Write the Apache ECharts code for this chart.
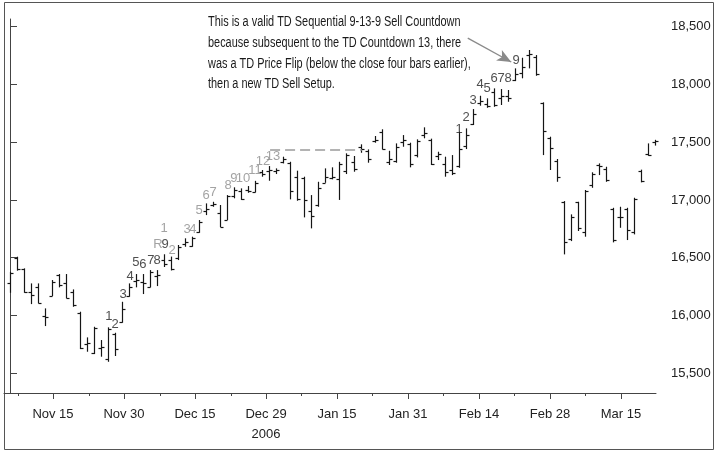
<!DOCTYPE html>
<html>
<head>
<meta charset="utf-8">
<script src="https://cdn.jsdelivr.net/npm/echarts@6.0.0/dist/echarts.min.js"></script>
<style>
  html, body { margin: 0; padding: 0; background: #fff; }
  #chart { width: 716px; height: 453px; }
</style>
</head>
<body>
<div id="chart"></div>
<script>
  // one bar per trading day, index 0 .. 92
  const opens = [16278, 16500, 16400, 16200, 16250, 16000, 16170, 16350, 16280, 16200,
    16020, 15750, 15680, 15720, 15620, 15840, 15945, 16170, 16300, 16290,
    16250, 16340, 16480, 16480, 16500, 16620, 16600, 16720, 16900, 16955,
    16890, 16830, 17030, 17080, 17090, 17070, 17240, 17250, 17250, 17330,
    17320, 17200, 17190, 16900, 16960, 17150, 17190, 17180, 17250, 17330,
    17460, 17420, 17510, 17590, 17330, 17340, 17500, 17480, 17390, 17560,
    17520, 17380, 17310, 17260, 17290, 17470, 17660, 17840, 17830, 17930,
    17880, 17900, 18040, 18100, 18250, 18240, 17840, 17540, 17340, 16980,
    16660, 16980, 16720, 17130, 17300, 17270, 16920, 16850, 16920, 16720,
    17250, 17400, 17500];
  const highs = [16379, 16509, 16408, 16278, 16278, 16062, 16307, 16359, 16359, 16226,
    16033, 15811, 15903, 15788, 15898, 15851, 16119, 16278, 16359, 16359,
    16393, 16393, 16530, 16510, 16610, 16668, 16682, 16826, 16970, 16984,
    16956, 17042, 17109, 17100, 17120, 17165, 17259, 17293, 17273, 17374,
    17330, 17253, 17201, 17042, 17157, 17273, 17282, 17330, 17403, 17380,
    17481, 17437, 17553, 17611, 17425, 17489, 17561, 17495, 17524, 17628,
    17530, 17417, 17374, 17388, 17590, 17619, 17786, 17901, 17879, 17965,
    17959, 17951, 18138, 18230, 18297, 18253, 17844, 17547, 17354, 16990,
    16875, 16984, 17086, 17239, 17316, 17287, 16932, 16941, 16932, 17019,
    17262, 17489, 17520];
  const lows = [16197, 16388, 16197, 16099, 16105, 15909, 16168, 16244, 16149, 16076,
    15710, 15687, 15667, 15644, 15600, 15650, 15938, 16163, 16244, 16186,
    16244, 16255, 16420, 16390, 16480, 16595, 16595, 16716, 16869, 16941,
    16765, 16826, 17014, 17000, 17062, 17065, 17201, 17166, 17224, 17316,
    17005, 16993, 16849, 16754, 16941, 17148, 17178, 17000, 17224, 17244,
    17408, 17322, 17495, 17437, 17302, 17322, 17460, 17282, 17368, 17533,
    17302, 17345, 17201, 17215, 17278, 17440, 17648, 17815, 17797, 17806,
    17821, 17849, 18028, 18052, 18138, 18074, 17388, 17259, 17157, 16529,
    16644, 16731, 16682, 17105, 17215, 17157, 16633, 16759, 16653, 16702,
    17152, 17382, 17470];
  const closes = [16365, 16400, 16200, 16180, 16110, 15990, 16290, 16260, 16150, 16090,
    15715, 15760, 15890, 15730, 15880, 15707, 16060, 16250, 16310, 16280,
    16380, 16350, 16450, 16400, 16590, 16640, 16670, 16810, 16920, 16965,
    16770, 17030, 17090, 17010, 17080, 17150, 17220, 17260, 17255, 17350,
    17080, 17010, 17000, 16860, 17100, 17200, 17200, 17310, 17390, 17270,
    17440, 17350, 17520, 17440, 17350, 17460, 17520, 17310, 17510, 17580,
    17310, 17400, 17240, 17230, 17440, 17560, 17740, 17860, 17810, 17820,
    17900, 17880, 18090, 18150, 18260, 18090, 17600, 17450, 17200, 16640,
    16850, 16760, 17080, 17220, 17290, 17170, 16650, 16850, 16740, 17010,
    17160, 17390, 17510];

  // date ticks, in bar units
  const tickPos = [6.13, 16.26, 26.39, 36.52, 46.65, 56.78, 66.9, 77.03, 87.16];
  const tickLabels = ['Nov 15', 'Nov 30', 'Dec 15', 'Dec 29\n2006', 'Jan 15', 'Jan 31', 'Feb 14', 'Feb 28', 'Mar 15'];
  const minorTickPos = [1.14, 11.27, 21.4, 31.5, 41.6, 51.7, 61.8, 72.0, 82.1];
  const priceTicks = [15500, 16000, 16500, 17000, 17500, 18000, 18500];

  // TD counts: [bar position, price level, text]
  const setupCounts = [
    [14.12, 15990, '1'], [14.98, 15926, '2'], [16.12, 16186, '3'], [17.12, 16342, '4'],
    [17.97, 16457, '5'], [18.97, 16445, '6'], [20.11, 16480, '7'], [20.97, 16480, '8'],
    [22.11, 16618, '9'],
    [64.05, 17613, '1'], [65.05, 17711, '2'], [66.05, 17864, '3'], [67.05, 18000, '4'],
    [68.05, 17965, '5'], [69.04, 18052, '6'], [70.04, 18052, '7'], [71.04, 18052, '8'],
    [72.18, 18210, '9']
  ];
  const countdownCounts = [
    [21.11, 16618, 'R'], [21.97, 16754, '1'], [23.11, 16567, '2'], [25.25, 16748, '3'],
    [26.1, 16748, '4'], [26.96, 16913, '5'], [27.96, 17042, '6'], [28.96, 17062, '7'],
    [31.1, 17129, '8'], [31.95, 17187, '9'], [33.24, 17187, '10'], [34.95, 17258, '11'],
    [36.09, 17330, '12'], [37.52, 17373, '13']
  ];
  const riskLevel = 17437;
  const riskFrom = 37.1, riskTo = 50.2;
  const arrowFrom = [65.3, 18400], arrowTo = [71.5, 18193];

  const noteLines = [
    'This is a valid TD Sequential 9-13-9 Sell Countdown',
    'because subsequent to the TD Countdown 13, there',
    'was a TD Price Flip (below the close four bars earlier),',
    'then a new TD Sell Setup.'
  ];

  const FONT = '"Liberation Sans", Arial, sans-serif';
  const xMin = -0.856, xMax = 92.15;

  const bars = opens.map((o, i) => [i, o, highs[i], lows[i], closes[i]]);

  const chart = echarts.init(document.getElementById('chart'));

  function countSeries(name, data, color) {
    return {
      name: name,
      type: 'scatter',
      data: data,
      symbolSize: 1,
      itemStyle: { color: 'rgba(0,0,0,0)' },
      silent: true,
      label: {
        show: true,
        position: 'inside',
        formatter: p => p.data[2],
        color: color,
        fontSize: 13,
        fontFamily: FONT
      }
    };
  }

  chart.setOption({
    animation: false,
    backgroundColor: '#fff',
    grid: { left: 4, right: 60, top: 19, bottom: 60 },
    xAxis: [
      {
        type: 'value',
        min: xMin,
        max: xMax,
        axisLine: { show: true, lineStyle: { color: '#444', width: 1 } },
        axisTick: { show: true, length: 6, customValues: tickPos, lineStyle: { color: '#444' } },
        axisLabel: {
          customValues: tickPos,
          formatter: v => {
            let k = 0;
            tickPos.forEach((t, j) => { if (Math.abs(t - v) < Math.abs(tickPos[k] - v)) k = j; });
            return tickLabels[k];
          },
          color: '#222',
          fontSize: 13,
          fontFamily: FONT,
          margin: 11,
          lineHeight: 20
        },
        splitLine: { show: false }
      },
      {
        type: 'value',
        min: xMin,
        max: xMax,
        position: 'bottom',
        axisLine: { show: false },
        axisTick: { show: true, length: 3, customValues: minorTickPos, lineStyle: { color: '#444' } },
        axisLabel: { show: false },
        splitLine: { show: false }
      }
    ],
    yAxis: {
      type: 'value',
      position: 'right',
      min: 15330,
      max: 18565,
      axisLine: { show: true, lineStyle: { color: '#444', width: 1 } },
      axisTick: { show: true, length: 7, customValues: priceTicks, lineStyle: { color: '#444' } },
      axisLabel: { customValues: priceTicks, color: '#222', fontSize: 13, fontFamily: FONT, margin: 15 },
      splitLine: { show: false }
    },
    series: [
      {
        name: 'price',
        type: 'custom',
        data: bars,
        encode: { x: 0, y: [2, 3] },
        clip: false,
        renderItem: (params, api) => {
          const x = api.value(0);
          const o = api.coord([x, api.value(1)]);
          const h = api.coord([x, api.value(2)]);
          const l = api.coord([x, api.value(3)]);
          const c = api.coord([x, api.value(4)]);
          const px = Math.round(h[0]) + 0.5;
          const style = { stroke: '#151515', lineWidth: 1.2 };
          return {
            type: 'group',
            children: [
              { type: 'line', shape: { x1: px, y1: h[1], x2: px, y2: l[1] }, style: style },
              { type: 'line', shape: { x1: px - 3, y1: Math.round(o[1]) + 0.5, x2: px, y2: Math.round(o[1]) + 0.5 }, style: style },
              { type: 'line', shape: { x1: px, y1: Math.round(c[1]) + 0.5, x2: px + 3, y2: Math.round(c[1]) + 0.5 }, style: style }
            ]
          };
        },
        markLine: {
          silent: true,
          symbol: ['none', 'none'],
          label: { show: false },
          lineStyle: { color: '#9a9a9a', type: [10, 5], width: 1.5 },
          data: [[{ coord: [riskFrom, riskLevel] }, { coord: [riskTo, riskLevel] }]]
        }
      },
      countSeries('setup', setupCounts, '#222'),
      Object.assign(countSeries('countdown', countdownCounts, '#8c8c8c'), {
        markLine: {
          silent: true,
          symbol: ['none', 'arrow'],
          symbolSize: [9, 14],
          label: { show: false },
          lineStyle: { color: '#8a8a8a', type: 'solid', width: 1.3 },
          data: [[{ coord: arrowFrom }, { coord: arrowTo }]]
        }
      })
    ],
    graphic: [
      {
        type: 'rect',
        shape: { x: 4.5, y: 2.5, width: 709, height: 447 },
        style: { fill: 'none', stroke: '#555', lineWidth: 1 },
        silent: true
      },
      {
        type: 'text',
        x: 208,
        y: 12,
        scaleX: 0.78,
        style: {
          text: noteLines.join('\n'),
          font: '14px ' + FONT,
          lineHeight: 20.7,
          fill: '#1a1a1a',
          verticalAlign: 'top'
        },
        silent: true
      }
    ]
  });
</script>
</body>
</html>
